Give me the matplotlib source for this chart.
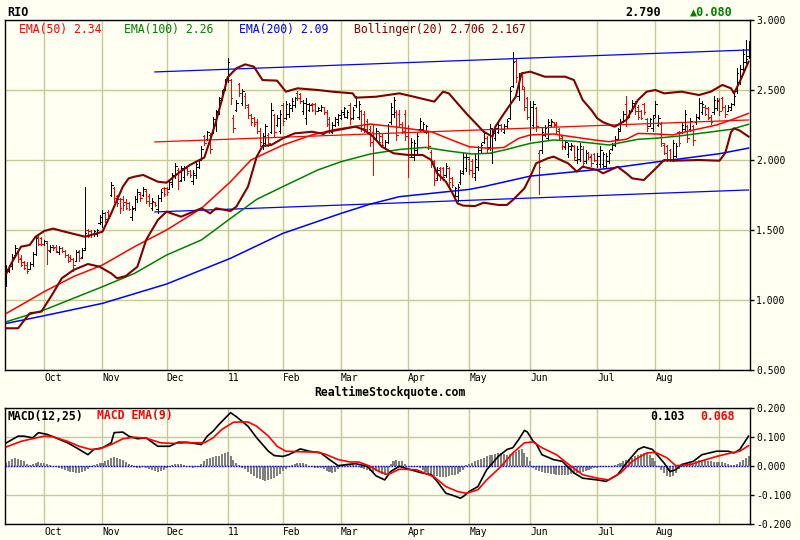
import numpy as np
import matplotlib
matplotlib.use("Agg")
import matplotlib.pyplot as plt

# month boundaries (bar index of first trading day) and their labels
month_start = [13, 33, 55, 76, 95, 115, 138, 159, 180, 203, 223, 245]
month_labels = ["Oct", "Nov", "Dec", "11", "Feb", "Mar", "Apr", "May", "Jun", "Jul", "Aug", ""]

# daily OHLC, one row per month (pre-Oct, Oct ... Sep)
opens = [
    1.12, 1.21, 1.24, 1.32, 1.35, 1.30, 1.27, 1.25, 1.22, 1.26, 1.33, 1.45, 1.44,
    1.40, 1.41, 1.35, 1.39, 1.38, 1.34, 1.37, 1.35, 1.32, 1.31, 1.29, 1.28, 1.35, 1.31, 1.37, 1.50, 1.49, 1.47, 1.47, 1.55,
    1.56, 1.62, 1.63, 1.75, 1.80, 1.74, 1.72, 1.72, 1.70, 1.69, 1.59, 1.66, 1.72, 1.76, 1.75, 1.78, 1.74, 1.66, 1.70, 1.65, 1.73, 1.80,
    1.80, 1.79, 1.83, 1.89, 1.93, 1.86, 1.88, 1.94, 1.92, 1.85, 1.89, 1.95, 2.01, 2.17, 2.15, 2.18, 2.20, 2.25, 2.35, 2.44, 2.51,
    2.58, 2.57, 2.30, 2.36, 2.54, 2.41, 2.46, 2.38, 2.32, 2.30, 2.27, 2.21, 2.10, 2.12, 2.18, 2.20, 2.32, 2.25, 2.21,
    2.39, 2.30, 2.33, 2.37, 2.39, 2.48, 2.47, 2.35, 2.30, 2.36, 2.40, 2.40, 2.35, 2.36, 2.38, 2.34, 2.29, 2.20, 2.25, 2.27,
    2.30, 2.33, 2.31, 2.39, 2.30, 2.39, 2.31, 2.35, 2.33, 2.28, 2.22, 2.20, 2.15, 2.19, 2.17, 2.09, 2.13, 2.27, 2.33, 2.34, 2.33, 2.26, 2.33,
    2.20, 2.04, 2.02, 2.07, 2.22, 2.22, 2.20, 2.20, 2.06, 1.99, 1.87, 1.94, 1.94, 1.89, 1.94, 1.87, 1.75, 1.74, 1.84, 1.92, 1.94,
    2.01, 1.99, 1.88, 1.95, 2.07, 2.13, 2.16, 2.09, 2.05, 2.16, 2.20, 2.25, 2.20, 2.24, 2.30, 2.53, 2.71, 2.46, 2.62, 2.51, 2.44,
    2.18, 2.25, 2.37, 2.05, 2.07, 2.18, 2.16, 2.25, 2.27, 2.26, 2.22, 2.17, 2.09, 2.04, 2.08, 2.10, 2.00, 2.01, 2.08, 1.99, 2.05, 2.03, 2.04,
    1.97, 1.97, 1.97, 1.96, 1.99, 2.08, 2.11, 2.15, 2.22, 2.28, 2.40, 2.31, 2.36, 2.41, 2.38, 2.35, 2.40, 2.29, 2.24, 2.23,
    2.32, 2.25, 2.26, 2.11, 2.10, 2.07, 2.00, 2.03, 2.20, 2.20, 2.22, 2.24, 2.22, 2.24, 2.27, 2.30, 2.34, 2.38, 2.37, 2.31, 2.34, 2.37,
    2.43, 2.44, 2.38, 2.35, 2.36, 2.40, 2.49, 2.56, 2.65, 2.70, 2.74,
]
highs = [
    1.25, 1.25, 1.33, 1.39, 1.36, 1.32, 1.28, 1.27, 1.27, 1.34, 1.45, 1.46, 1.45,
    1.43, 1.42, 1.39, 1.39, 1.39, 1.385, 1.38, 1.36, 1.33, 1.32, 1.30, 1.36, 1.36, 1.37, 1.81, 1.51, 1.50, 1.50, 1.51, 1.61,
    1.64, 1.63, 1.64, 1.84, 1.81, 1.75, 1.73, 1.74, 1.72, 1.70, 1.67, 1.74, 1.79, 1.77, 1.81, 1.79, 1.76, 1.73, 1.70, 1.75, 1.79, 1.81,
    1.81, 1.85, 1.91, 1.98, 1.94, 1.96, 1.96, 1.95, 1.93, 1.93, 1.99, 2.01, 2.10, 2.18, 2.21, 2.19, 2.31, 2.36, 2.45, 2.50, 2.58,
    2.73, 2.58, 2.32, 2.43, 2.55, 2.51, 2.48, 2.40, 2.33, 2.31, 2.29, 2.23, 2.19, 2.26, 2.19, 2.41, 2.33, 2.32, 2.36,
    2.41, 2.42, 2.41, 2.44, 2.45, 2.49, 2.48, 2.43, 2.44, 2.41, 2.41, 2.41, 2.38, 2.39, 2.38, 2.36, 2.31, 2.27, 2.31, 2.33,
    2.36, 2.38, 2.36, 2.41, 2.38, 2.46, 2.42, 2.36, 2.35, 2.29, 2.24, 2.25, 2.23, 2.20, 2.19, 2.14, 2.26, 2.41, 2.45, 2.36, 2.36, 2.27, 2.36,
    2.25, 2.16, 2.14, 2.19, 2.30, 2.27, 2.25, 2.21, 2.07, 2.00, 1.95, 1.95, 1.95, 1.98, 1.95, 1.88, 1.81, 1.83, 1.93, 2.05, 2.04,
    2.02, 2.01, 2.04, 2.10, 2.12, 2.21, 2.17, 2.26, 2.23, 2.25, 2.27, 2.26, 2.26, 2.29, 2.52, 2.77, 2.73, 2.62, 2.63, 2.52, 2.45,
    2.42, 2.42, 2.38, 2.07, 2.23, 2.25, 2.29, 2.29, 2.27, 2.27, 2.23, 2.18, 2.14, 2.12, 2.12, 2.11, 2.10, 2.12, 2.10, 2.07, 2.06, 2.04, 2.05,
    2.05, 2.10, 2.06, 2.05, 2.07, 2.12, 2.17, 2.23, 2.29, 2.35, 2.46, 2.36, 2.43, 2.42, 2.39, 2.36, 2.41, 2.30, 2.30, 2.32,
    2.42, 2.32, 2.27, 2.12, 2.11, 2.08, 2.14, 2.12, 2.21, 2.27, 2.36, 2.25, 2.30, 2.25, 2.33, 2.44, 2.42, 2.39, 2.38, 2.32, 2.46, 2.44,
    2.44, 2.45, 2.39, 2.39, 2.41, 2.48, 2.66, 2.68, 2.79, 2.86, 2.85,
]
lows = [
    1.10, 1.20, 1.22, 1.31, 1.27, 1.24, 1.22, 1.19, 1.22, 1.24, 1.32, 1.39, 1.39,
    1.39, 1.26, 1.34, 1.36, 1.34, 1.33, 1.34, 1.31, 1.27, 1.28, 1.21, 1.28, 1.28, 1.30, 1.36, 1.45, 1.45, 1.46, 1.46, 1.54,
    1.52, 1.56, 1.58, 1.74, 1.70, 1.67, 1.62, 1.64, 1.65, 1.64, 1.57, 1.64, 1.70, 1.71, 1.74, 1.69, 1.67, 1.64, 1.67, 1.62, 1.71, 1.74,
    1.75, 1.79, 1.81, 1.87, 1.79, 1.85, 1.86, 1.89, 1.88, 1.83, 1.87, 1.94, 2.00, 2.11, 2.14, 2.05, 2.19, 2.21, 2.33, 2.43, 2.50,
    2.56, 2.40, 2.20, 2.35, 2.46, 2.39, 2.37, 2.30, 2.25, 2.24, 2.19, 2.10, 2.08, 2.10, 2.10, 2.19, 2.17, 2.24, 2.19,
    2.25, 2.29, 2.31, 2.35, 2.38, 2.43, 2.41, 2.33, 2.26, 2.35, 2.35, 2.33, 2.35, 2.35, 2.33, 2.24, 2.19, 2.19, 2.24, 2.25,
    2.29, 2.31, 2.30, 2.26, 2.29, 2.38, 2.29, 2.21, 2.20, 2.19, 2.10, 1.89, 2.14, 2.12, 2.10, 2.08, 2.12, 2.26, 2.31, 2.14, 2.24, 2.19, 2.14,
    1.88, 2.02, 2.00, 2.05, 2.21, 2.21, 2.19, 2.08, 1.95, 1.82, 1.86, 1.86, 1.86, 1.88, 1.81, 1.81, 1.74, 1.71, 1.83, 1.90, 1.92,
    1.90, 1.88, 1.86, 1.93, 2.06, 2.12, 2.05, 2.07, 1.98, 2.14, 2.19, 2.21, 2.19, 2.23, 2.29, 2.52, 2.56, 2.43, 2.51, 2.36, 2.29,
    2.14, 2.23, 2.21, 1.76, 2.05, 2.17, 2.14, 2.24, 2.24, 2.19, 2.14, 2.08, 2.08, 2.02, 2.07, 2.00, 1.98, 1.99, 1.95, 1.98, 2.01, 1.96, 1.99,
    1.95, 1.95, 1.95, 1.94, 1.98, 2.07, 2.10, 2.14, 2.21, 2.27, 2.24, 2.31, 2.35, 2.33, 2.29, 2.29, 2.33, 2.21, 2.24, 2.21,
    2.31, 2.24, 2.10, 2.04, 1.99, 1.99, 1.99, 2.02, 2.10, 2.19, 2.21, 2.13, 2.21, 2.11, 2.26, 2.29, 2.33, 2.32, 2.29, 2.26, 2.33, 2.36,
    2.32, 2.36, 2.31, 2.35, 2.36, 2.39, 2.48, 2.54, 2.64, 2.69, 2.73,
]
closes = [
    1.22, 1.24, 1.31, 1.37, 1.29, 1.25, 1.23, 1.21, 1.26, 1.33, 1.44, 1.40, 1.40,
    1.42, 1.36, 1.38, 1.37, 1.35, 1.37, 1.35, 1.32, 1.28, 1.29, 1.25, 1.34, 1.30, 1.36, 1.48, 1.46, 1.47, 1.49, 1.50, 1.59,
    1.62, 1.58, 1.60, 1.82, 1.73, 1.69, 1.66, 1.68, 1.66, 1.65, 1.65, 1.72, 1.77, 1.73, 1.79, 1.71, 1.69, 1.71, 1.68, 1.73, 1.77, 1.76,
    1.77, 1.84, 1.89, 1.96, 1.85, 1.94, 1.95, 1.91, 1.89, 1.91, 1.97, 2.00, 2.08, 2.12, 2.20, 2.08, 2.29, 2.34, 2.43, 2.49, 2.56,
    2.70, 2.44, 2.23, 2.41, 2.48, 2.49, 2.39, 2.32, 2.27, 2.26, 2.21, 2.13, 2.17, 2.24, 2.12, 2.36, 2.20, 2.30, 2.33,
    2.28, 2.40, 2.39, 2.42, 2.44, 2.44, 2.42, 2.41, 2.40, 2.39, 2.36, 2.35, 2.37, 2.38, 2.34, 2.26, 2.21, 2.25, 2.29, 2.32,
    2.34, 2.37, 2.34, 2.29, 2.36, 2.45, 2.40, 2.23, 2.22, 2.20, 2.13, 2.15, 2.21, 2.13, 2.11, 2.13, 2.24, 2.38, 2.43, 2.18, 2.26, 2.21, 2.17,
    2.02, 2.13, 2.12, 2.17, 2.28, 2.26, 2.24, 2.10, 1.97, 1.86, 1.93, 1.88, 1.88, 1.96, 1.84, 1.82, 1.80, 1.81, 1.91, 2.02, 2.02,
    1.93, 1.91, 2.01, 2.07, 2.11, 2.19, 2.08, 2.23, 2.19, 2.23, 2.25, 2.22, 2.24, 2.28, 2.49, 2.70, 2.59, 2.60, 2.53, 2.38, 2.31,
    2.38, 2.40, 2.24, 1.95, 2.20, 2.23, 2.27, 2.28, 2.25, 2.21, 2.16, 2.10, 2.13, 2.10, 2.11, 2.02, 2.08, 2.10, 1.98, 2.05, 2.02, 1.98, 2.00,
    2.03, 2.07, 2.04, 2.03, 2.05, 2.11, 2.15, 2.21, 2.27, 2.33, 2.30, 2.35, 2.41, 2.35, 2.31, 2.30, 2.34, 2.23, 2.29, 2.30,
    2.40, 2.30, 2.12, 2.05, 2.01, 2.01, 2.12, 2.10, 2.12, 2.25, 2.33, 2.16, 2.28, 2.14, 2.31, 2.41, 2.40, 2.33, 2.30, 2.27, 2.43, 2.42,
    2.35, 2.38, 2.33, 2.38, 2.40, 2.46, 2.62, 2.65, 2.76, 2.72, 2.79,
]

# indicator lines (bar index, value)
ema50_idx = [0, 5, 13, 23, 33, 44, 55, 67, 77, 84, 95, 105, 112, 119, 125, 135, 146, 153, 159, 166,
             171, 176, 180, 188, 194, 202, 207, 213, 217, 223, 229, 236, 244, 249, 255]
ema50_val = [0.905, 0.964, 1.06, 1.167, 1.25, 1.381, 1.5, 1.655, 1.845, 2.0, 2.107, 2.179, 2.214, 2.238, 2.257,
             2.233, 2.202, 2.143, 2.095, 2.083, 2.09, 2.155, 2.179, 2.186, 2.167, 2.143, 2.131, 2.148, 2.19, 2.186,
             2.179, 2.214, 2.25, 2.286, 2.333]
ema100_idx = [0, 13, 33, 44, 55, 67, 77, 86, 95, 107, 115, 125, 135, 144, 152, 160, 166, 171, 180, 188,
              194, 202, 207, 217, 223, 231, 240, 249, 255]
ema100_val = [0.845, 0.929, 1.095, 1.19, 1.321, 1.429, 1.583, 1.719, 1.81, 1.929, 1.988, 2.043, 2.075, 2.09, 2.064,
              2.043, 2.048, 2.071, 2.119, 2.143, 2.136, 2.119, 2.107, 2.148, 2.155, 2.171, 2.195, 2.219, 2.255]
ema200_idx = [0, 13, 33, 55, 77, 95, 115, 125, 135, 159, 164, 180, 207, 223, 245, 255]
ema200_val = [0.833, 0.888, 0.976, 1.114, 1.298, 1.476, 1.619, 1.685, 1.738, 1.79, 1.81, 1.885, 1.94, 1.985, 2.045, 2.085]

bb_up_idx = [0, 2, 5, 8, 10, 13, 16, 20, 27, 29, 33, 36, 40, 42, 44, 47, 52, 55, 59, 63,
             68, 70, 72, 74, 76, 79, 82, 85, 88, 93, 96, 100, 107, 112, 119, 120, 127, 135, 140, 147,
             150, 152, 158, 164, 167, 168, 171, 175, 177, 180, 185, 192, 195, 198, 201, 203, 205, 209, 213, 217,
             220, 223, 226, 232, 238, 242, 246, 249, 250, 252, 255]
bb_up_val = [1.19, 1.274, 1.381, 1.393, 1.452, 1.493, 1.51, 1.488, 1.452, 1.464, 1.488, 1.619, 1.81, 1.869, 1.881,
             1.893, 1.845, 1.838, 1.905, 1.964, 2.018, 2.143, 2.274, 2.429, 2.59, 2.655, 2.683, 2.667, 2.571, 2.567,
             2.488, 2.512, 2.5, 2.488, 2.476, 2.445, 2.452, 2.476, 2.452, 2.417, 2.488, 2.476, 2.333, 2.202, 2.167,
             2.238, 2.333, 2.452, 2.619, 2.631, 2.595, 2.595, 2.571, 2.429, 2.357, 2.298, 2.27, 2.238, 2.286, 2.429,
             2.488, 2.5, 2.476, 2.488, 2.464, 2.488, 2.536, 2.512, 2.476, 2.56, 2.702]
bb_lo_idx = [0, 4, 8, 12, 16, 19, 23, 28, 32, 36, 38, 41, 45, 48, 52, 55, 60, 67, 70, 72,
             77, 79, 83, 86, 88, 91, 95, 99, 105, 109, 110, 115, 120, 123, 126, 129, 133, 138, 143, 146,
             148, 151, 153, 155, 157, 161, 164, 169, 172, 174, 178, 180, 182, 186, 188, 193, 196, 198, 203, 205,
             210, 213, 215, 219, 222, 226, 229, 238, 245, 247, 249, 250, 252, 255]
bb_lo_val = [0.798, 0.798, 0.905, 0.917, 1.048, 1.155, 1.214, 1.257, 1.238, 1.19, 1.155, 1.171, 1.238, 1.429, 1.571,
             1.631, 1.595, 1.655, 1.619, 1.655, 1.636, 1.667, 1.81, 2.024, 2.1, 2.107, 2.155, 2.19, 2.202, 2.186,
             2.2, 2.219, 2.238, 2.214, 2.167, 2.095, 2.048, 2.036, 2.036, 2.0, 1.905, 1.845, 1.774, 1.69, 1.674,
             1.671, 1.695, 1.679, 1.679, 1.714, 1.798, 1.881, 1.976, 2.012, 2.024, 1.976, 1.917, 1.952, 1.929, 1.905,
             1.952, 1.905, 1.869, 1.857, 1.917, 2.0, 1.995, 2.0, 1.995, 2.05, 2.2, 2.226, 2.21, 2.167]

# regression channel (start / end bar)
chan_idx = [51, 255]
chan_mid = [2.129, 2.286]
chan_upper = [2.629, 2.786]
chan_lower = [1.629, 1.786]

# MACD panel
macd_idx = [0, 4, 6, 9, 11, 14, 17, 21, 24, 28, 30, 33, 36, 37, 40, 42, 45, 48, 52, 56,
            59, 62, 67, 69, 71, 73, 77, 79, 83, 86, 90, 92, 95, 97, 101, 104, 108, 111, 114, 117,
            120, 124, 127, 130, 132, 135, 139, 142, 146, 148, 151, 153, 156, 157, 159, 162, 165, 169, 172, 174,
            176, 178, 179, 181, 182, 184, 188, 191, 195, 198, 203, 206, 210, 213, 217, 219, 222, 226, 228, 230,
            232, 236, 239, 244, 248, 250, 252, 255]
macd_val = [0.080, 0.103, 0.103, 0.097, 0.115, 0.109, 0.097, 0.080, 0.063, 0.039, 0.057, 0.063, 0.080, 0.115, 0.117,
            0.103, 0.094, 0.097, 0.068, 0.068, 0.082, 0.082, 0.074, 0.103, 0.120, 0.143, 0.184, 0.170, 0.137, 0.097,
            0.051, 0.036, 0.033, 0.039, 0.059, 0.051, 0.045, 0.022, 0.001, 0.005, 0.008, -0.001, -0.034, -0.048, -0.019,
            -0.001, -0.013, -0.022, -0.030, -0.053, -0.094, -0.100, -0.111, -0.105, -0.088, -0.071, -0.013, 0.033, 0.057,
            0.063, 0.091, 0.123, 0.117, 0.085, 0.077, 0.039, 0.022, 0.016, -0.024, -0.042, -0.048, -0.053, -0.030, 0.010,
            0.057, 0.066, 0.057, 0.010, -0.019, -0.013, 0.005, 0.016, 0.039, 0.051, 0.051, 0.045, 0.057, 0.103]
signal_idx = [0, 5, 8, 13, 16, 21, 25, 29, 32, 36, 40, 44, 48, 53, 57, 62, 68, 71, 74, 78,
              83, 86, 90, 93, 96, 101, 107, 110, 114, 118, 121, 125, 128, 131, 135, 141, 147, 151, 155, 158,
              162, 165, 170, 174, 178, 181, 184, 189, 194, 198, 203, 207, 211, 215, 220, 223, 227, 230, 235, 239,
              244, 249, 252, 255]
signal_val = [0.066, 0.085, 0.092, 0.103, 0.101, 0.085, 0.068, 0.057, 0.059, 0.074, 0.094, 0.099, 0.096, 0.080, 0.078,
              0.080, 0.080, 0.097, 0.126, 0.151, 0.152, 0.137, 0.103, 0.068, 0.051, 0.049, 0.048, 0.039, 0.022, 0.014,
              0.014, -0.001, -0.019, -0.030, -0.011, -0.013, -0.038, -0.071, -0.088, -0.094, -0.082, -0.048, -0.001,
              0.045, 0.080, 0.083, 0.063, 0.039, -0.001, -0.030, -0.042, -0.048, -0.024, 0.016, 0.045, 0.047, 0.028,
              0.001, 0.005, 0.018, 0.033, 0.045, 0.051, 0.070]
hist = [
    0.012, 0.018, 0.024, 0.026, 0.024, 0.02, 0.016, 0.008, 0.005, 0.006, 0.012, 0.014, 0.012,
    0.01, 0.008, 0.004, 0.001, -0.002,
    -0.006, -0.01, -0.013, -0.016, -0.02, -0.022, -0.024, -0.023, -0.02, -0.016, -0.01, -0.004,
    0.004, 0.008, 0.01, 0.012, 0.016, 0.022, 0.028, 0.031, 0.029, 0.024, 0.02, 0.014, 0.008, 0.004,
    -0.004, -0.007, -0.007, -0.005, -0.006, -0.01, -0.014, -0.018, -0.019, -0.017, -0.013, -0.008, -0.003,
    0.004, 0.007, 0.008, 0.007, 0.004, 0.0, -0.004, -0.006, -0.005, -0.002,
    0.008, 0.016, 0.024, 0.028, 0.03, 0.033, 0.036, 0.04, 0.044, 0.047, 0.035, 0.022, 0.01, 0.004,
    -0.006, -0.012, -0.019, -0.026, -0.033, -0.04, -0.045, -0.048, -0.05, -0.049, -0.045, -0.04, -0.034, -0.026, -0.018,
    -0.01, -0.004, 0.002, 0.006, 0.01, 0.012, 0.01, 0.006,
    -0.003, -0.005, -0.007, -0.007, -0.006, -0.01, -0.016, -0.022, -0.024, -0.02, -0.01,
    0.002, 0.004, 0.005, 0.005, 0.004, 0.002, 0.0,
    -0.006, -0.01, -0.015, -0.018, -0.019, -0.018, -0.022, -0.028, -0.03, -0.026,
    0.008, 0.017, 0.019, 0.018, 0.016, 0.008, 0.0, -0.003, -0.005, -0.005, -0.008,
    -0.014, -0.02, -0.026, -0.03, -0.034, -0.036, -0.037, -0.038, -0.037, -0.035, -0.032, -0.03, -0.026, -0.022, -0.015,
    0.004, 0.008, 0.012, 0.016, 0.02, 0.024, 0.028, 0.033, 0.037, 0.039, 0.042, 0.045, 0.044, 0.041, 0.039, 0.04,
    0.045, 0.05, 0.055, 0.059, 0.045, 0.03, 0.018,
    -0.008, -0.013, -0.017, -0.02, -0.023, -0.025, -0.027, -0.029, -0.03, -0.03, -0.03, -0.03, -0.03, -0.029,
    -0.027, -0.024, -0.021, -0.019, -0.016, -0.013, -0.01, -0.008, -0.006,
    -0.005, -0.005, -0.004, -0.003, -0.002, 0.002,
    0.008, 0.012, 0.016, 0.02, 0.024, 0.028, 0.033, 0.038, 0.042, 0.045, 0.044, 0.038, 0.028, 0.016,
    -0.005, -0.015, -0.025, -0.033, -0.038, -0.034, -0.024, -0.012,
    -0.002, 0.004, 0.008, 0.01, 0.012, 0.016, 0.02, 0.022, 0.02, 0.018, 0.016, 0.015, 0.014, 0.013, 0.013, 0.012, 0.008,
    0.004, 0.002, 0.006, 0.013, 0.02, 0.028, 0.036,
]

assert len(opens) == len(highs) == len(lows) == len(closes) == len(hist)

BG = "#FFFFF2"
GRID = "#C8C896"
plt.rcParams["font.family"] = "DejaVu Sans Mono"

W, H = 800, 540
fig = plt.figure(figsize=(8, 5.4), dpi=100, facecolor=BG)


def box(x0, y0, x1, y1):
    # pixel box -> figure fraction
    return [x0 / W, 1 - y1 / H, (x1 - x0) / W, (y1 - y0) / H]


ax = fig.add_axes(box(5, 20, 750, 370))
ax2 = fig.add_axes(box(5, 408, 750, 524))

n = len(closes)
x = np.arange(n)
o, h, l, c = (np.array(v) for v in (opens, highs, lows, closes))

for a in (ax, ax2):
    a.set_facecolor(BG)
    a.set_xlim(-0.5, n - 0.5)
    a.set_xticks(month_start)
    a.set_xticklabels(month_labels, fontsize=7)
    for lab in a.get_xticklabels():
        lab.set_horizontalalignment("left")
    a.tick_params(axis="x", length=0, pad=2)
    a.yaxis.tick_right()
    a.tick_params(axis="y", length=3, width=1, pad=1.5, labelsize=7, direction="out")
    a.grid(True, color=GRID, lw=1.0)
    a.set_axisbelow(True)
    for s in a.spines.values():
        s.set_color("black")
        s.set_linewidth(1.0)

# price panel
ax.set_ylim(0.5, 3.0)
ax.set_yticks([0.5, 1.0, 1.5, 2.0, 2.5, 3.0])
ax.yaxis.set_major_formatter(matplotlib.ticker.FormatStrFormatter("%.3f"))

cols = np.where(c >= o, "black", "#FF0000")
bar_lw = 0.72  # one pixel
ax.vlines(x, l, h, colors=cols, lw=bar_lw, zorder=3, antialiased=False)
ax.hlines(o, x - 0.5, x, colors=cols, lw=bar_lw, zorder=3, antialiased=False)
ax.hlines(c, x, x + 0.5, colors=cols, lw=bar_lw, zorder=3, antialiased=False)

ax.plot(chan_idx, chan_upper, color="#0000FF", lw=0.9, zorder=4)
ax.plot(chan_idx, chan_lower, color="#0000FF", lw=0.9, zorder=4)
ax.plot(chan_idx, chan_mid, color="#FF0000", lw=0.9, zorder=4)
ax.plot(ema200_idx, ema200_val, color="#0000FF", lw=1.1, zorder=4)
ax.plot(ema100_idx, ema100_val, color="#008000", lw=1.1, zorder=4)
ax.plot(ema50_idx, ema50_val, color="#FF0000", lw=1.1, zorder=4)
ax.plot(bb_up_idx, bb_up_val, color="#800000", lw=1.5, zorder=5)
ax.plot(bb_lo_idx, bb_lo_val, color="#800000", lw=1.5, zorder=5)

# MACD panel
ax2.set_ylim(-0.2, 0.2)
ax2.set_yticks([-0.2, -0.1, 0.0, 0.1, 0.2])
ax2.yaxis.set_major_formatter(matplotlib.ticker.FormatStrFormatter("%.3f"))
ax2.bar(x, hist, width=0.7, color="#808080", zorder=2, antialiased=False)
ax2.axhline(0, color="#0000FF", lw=1.0, ls=(0, (1, 1)), zorder=3)
ax2.plot(macd_idx, macd_val, color="black", lw=1.2, zorder=4)
ax2.plot(signal_idx, signal_val, color="#FF0000", lw=1.2, zorder=4)


def ftext(px, py, s, color="black", size=8.3, weight="normal", ha="left"):
    fig.text(px / W, 1 - py / H, s, color=color, fontsize=size, fontweight=weight,
             ha=ha, va="center")


# header
ftext(7, 12, "RIO", weight="bold", size=8.5)
ftext(625, 12, "2.790", weight="bold", size=8.5)
ftext(690, 12, "\u25b20.080", color="#008000", weight="bold", size=8.5)

# legend of price panel
ftext(19, 30, "EMA(50) 2.34", color="#FF0000")
ftext(124, 30, "EMA(100) 2.26", color="#008000")
ftext(239, 30, "EMA(200) 2.09", color="#0000FF")
ftext(354, 30, "Bollinger(20) 2.706 2.167", color="#800000")

ftext(390, 392, "RealtimeStockquote.com", weight="bold", size=8.3, ha="center")

# legend of MACD panel
ftext(7, 416, "MACD(12,25)", weight="bold")
ftext(97, 416, "MACD EMA(9)", color="#FF0000", weight="bold")
ftext(650, 416, "0.103", weight="bold")
ftext(700, 416, "0.068", color="#FF0000", weight="bold")

fig.savefig("out.png", dpi=100, facecolor=BG)
